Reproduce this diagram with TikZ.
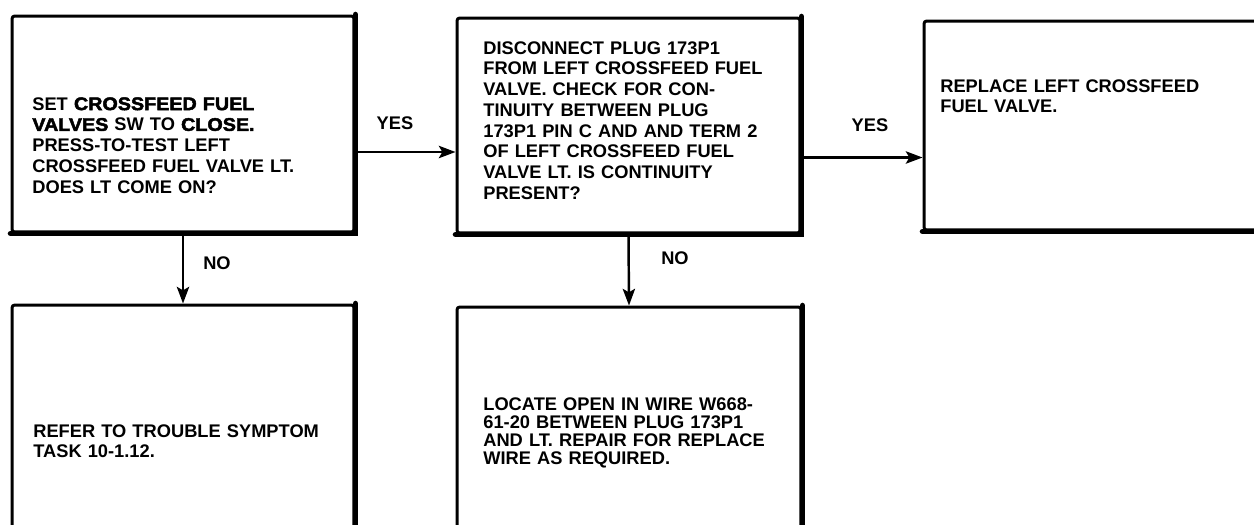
\documentclass[tikz,border=0pt]{standalone}
\usepackage{fontspec}
\setmainfont{Liberation Sans}
\newfontfamily\heavyfont{Liberation Sans}[BoldFeatures={FakeBold=2.5,FakeStretch=1.08}]
\usetikzlibrary{arrows.meta,calc}
\newcommand{\hv}[1]{{\heavyfont\bfseries #1}}
\tikzset{
  stepbox/.style={draw, line width=1.7pt, rounded corners=1.5pt, inner sep=0pt},
  shade/.style={line width=3.2pt, line cap=round},
  boxtext/.style={anchor=north west, inner sep=0pt, align=left, text width=7cm,
    font=\fontsize{10.4}{11.8}\selectfont\bfseries},
  answer/.style={inner sep=0pt, font=\fontsize{10.4}{12}\selectfont\bfseries},
  flow/.style={line width=1.4pt, -{Stealth[length=9.5pt,width=7pt,inset=2pt]}}
}

\begin{document}
\begin{tikzpicture}[x=0.02cm,y=-0.02cm]
\useasboundingbox (0,0) rectangle (1254,524);
\clip (0,0) rectangle (1254,524);

% boxes
\node[stepbox, minimum width=6.84cm, minimum height=4.32cm] (setbox) at (183,124) {};
\node[stepbox, minimum width=6.86cm, minimum height=4.30cm] (discbox) at (628.5,125.5) {};
\node[stepbox, minimum width=6.76cm, minimum height=4.18cm] (replbox) at (1093,125.5) {};
\node[stepbox, minimum width=6.84cm, minimum height=5.10cm] (refbox) at (183,432.5) {};
\node[stepbox, minimum width=6.88cm, minimum height=5.06cm] (locbox) at (629,433.5) {};

\draw[shade] (setbox.north east) -- (setbox.south east) -- (setbox.south west);
\draw[shade] (discbox.north east) -- (discbox.south east) -- (discbox.south west);
\draw[shade] (replbox.south west) -- (replbox.south east);
\draw[shade] (refbox.north east) -- (refbox.south east);
\draw[shade] (locbox.north east) -- (locbox.south east);

% texts
\node[boxtext] (settext) at (32,97)
  {SET \hv{CROSSFEED FUEL}\\ \hv{VALVES} SW TO \hv{CLOSE.}\\ PRESS-TO-TEST LEFT\\
   CROSSFEED FUEL VALVE LT.\\ DOES LT COME ON?};
\node[boxtext] (disctext) at (483,41)
  {DISCONNECT PLUG 173P1\\ FROM LEFT CROSSFEED FUEL\\ VALVE. CHECK FOR CON-\\
   TINUITY BETWEEN PLUG\\ 173P1 PIN C AND AND TERM 2\\ OF LEFT CROSSFEED FUEL\\
   VALVE LT. IS CONTINUITY\\ PRESENT?};
\node[boxtext] (repltext) at (940,79)
  {REPLACE LEFT CROSSFEED\\ FUEL VALVE.};
\node[boxtext] (reftext) at (33,424)
  {REFER TO TROUBLE SYMPTOM\\ TASK 10-1.12.};
\node[boxtext, font=\fontsize{10.4}{10.4}\selectfont\bfseries] (loctext) at (483,397)
  {LOCATE OPEN IN WIRE W668-\\ 61-20 BETWEEN PLUG 173P1\\ AND LT. REPAIR FOR REPLACE\\
   WIRE AS REQUIRED.};

% connectors
\draw[flow] (setbox.east) ++(0,28) coordinate (yesa) -- (yesa -| discbox.west);
\draw[flow] (discbox.east) ++(0,32) coordinate (yesb) -- (yesb -| replbox.west);
\draw[flow] (setbox.south) -- (refbox.north);
\draw[flow] (discbox.south) -- (locbox.north);

\node[answer] (yesone) at (395,123) {YES};
\node[answer] (yestwo) at (870,125) {YES};
\node[answer] (noone) at (217,263) {NO};
\node[answer] (notwo) at (675,258) {NO};

\end{tikzpicture}
\end{document}
